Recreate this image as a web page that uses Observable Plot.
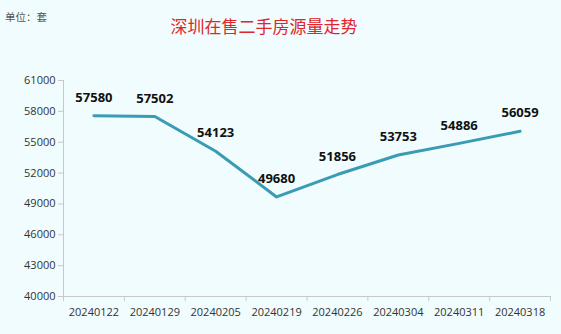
<!DOCTYPE html>
<html>
<head>
<meta charset="utf-8">
<script src="https://cdn.jsdelivr.net/npm/d3@7"></script>
<script src="https://cdn.jsdelivr.net/npm/@observablehq/plot@0.6"></script>
<style>
  html, body { margin: 0; padding: 0; background: #f0fcfd; }
  #wrap { position: relative; width: 561px; height: 334px; overflow: hidden; background: #f0fcfd; }
  #head { position: relative; height: 60px; }
  #unit { position: absolute; left: 5px; top: 9px; font: 10.5px/16px "Noto Sans CJK SC", sans-serif; color: #555; }
  #title { position: absolute; left: 0; width: 528px; top: 13px; text-align: center; font: 17px/25px "Noto Sans CJK SC", sans-serif; color: #e0262c; }
</style>
</head>
<body>
<div id="wrap">
  <div id="head"><div id="unit"></div><div id="title"></div></div>
  <div id="chart"></div>
</div>
<script>
const unitLabel = "单位：套";
const titleText = "深圳在售二手房源量走势";
const dates = ["20240122", "20240129", "20240205", "20240219", "20240226", "20240304", "20240311", "20240318"];
const listings = [57580, 57502, 54123, 49680, 51856, 53753, 54886, 56059];
const yTicks = [40000, 43000, 46000, 49000, 52000, 55000, 58000, 61000];

document.getElementById("unit").textContent = unitLabel;
document.getElementById("title").textContent = titleText;

const data = dates.map((d, i) => ({date: d, pos: i + 0.5, value: listings[i]}));
const boundaries = d3.range(dates.length + 1);
const centers = data.map(d => d.pos);

const chart = Plot.plot({
  width: 561,
  height: 274,
  marginTop: 20,
  marginBottom: 38,
  marginLeft: 63,
  marginRight: 11,
  style: {background: "transparent", fontFamily: "'Open Sans', sans-serif", fontSize: "11px", color: "#333"},
  x: {type: "linear", domain: [0, dates.length]},
  y: {domain: [40000, 61000]},
  marks: [
    Plot.ruleY([40000], {stroke: "#c8c8c8", strokeWidth: 1}),
    Plot.ruleX([0], {stroke: "#c8c8c8", strokeWidth: 1}),
    Plot.axisY({ticks: yTicks, tickSize: 5, tickPadding: 3, stroke: "#c8c8c8", tickFormat: d => String(d), fill: "#333", label: null}),
    Plot.axisX({ticks: boundaries, tickSize: 5, stroke: "#c8c8c8", tickFormat: () => "", label: null}),
    Plot.axisX({ticks: centers, tickSize: 0, tickPadding: 12, tickFormat: v => dates[Math.round(v - 0.5)], fill: "#333", label: null}),
    Plot.line(data, {x: "pos", y: "value", stroke: "#3a9bb4", strokeWidth: 3}),
    Plot.text(data, {x: "pos", y: "value", text: d => String(d.value), dy: -18, fontWeight: "bold", fontSize: 13, fill: "#111"})
  ]
});
document.getElementById("chart").appendChild(chart);
</script>
</body>
</html>
